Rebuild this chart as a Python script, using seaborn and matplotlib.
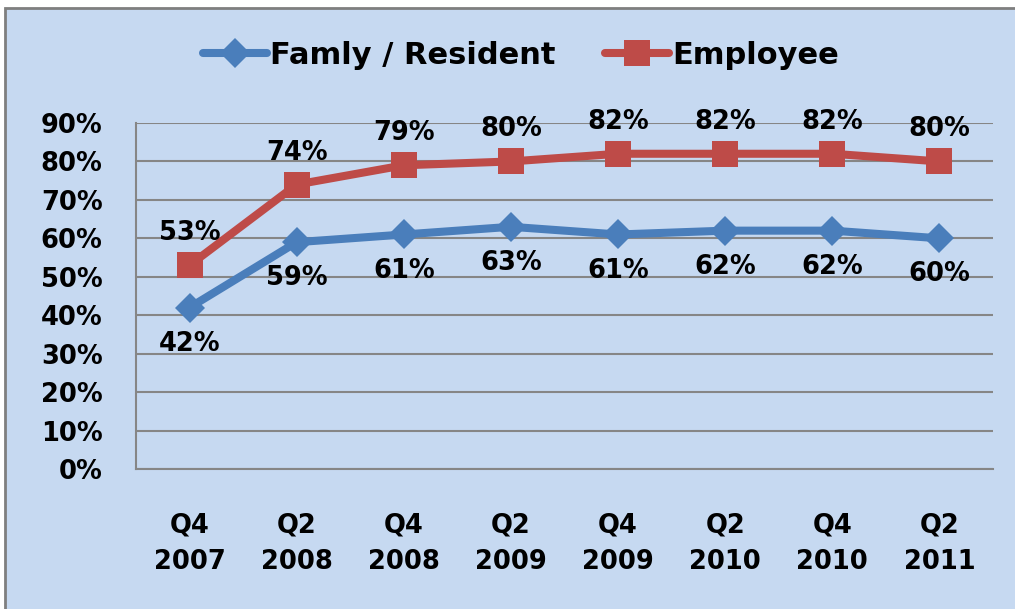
import seaborn as sns
import matplotlib.pyplot as plt
import pandas as pd
from matplotlib.patches import Rectangle
from matplotlib.ticker import PercentFormatter

quarters = ["Q4\n2007", "Q2\n2008", "Q4\n2008", "Q2\n2009",
            "Q4\n2009", "Q2\n2010", "Q4\n2010", "Q2\n2011"]
family = [42, 59, 61, 63, 61, 62, 62, 60]
employee = [53, 74, 79, 80, 82, 82, 82, 80]
series_names = ["Famly / Resident", "Employee"]

df = pd.DataFrame({
    "quarter": quarters * 2,
    "pct": family + employee,
    "group": [series_names[0]] * len(family) + [series_names[1]] * len(employee),
})
df["x"] = list(range(len(quarters))) * 2

sns.set_style("white")
plt.rcParams["font.family"] = ["DejaVu Sans"]
plt.rcParams["text.color"] = "black"
plt.rcParams["xtick.labelcolor"] = "black"
plt.rcParams["ytick.labelcolor"] = "black"
FS = 18.5

fig = plt.figure(figsize=(10.15, 6.09), dpi=100)
fig.patch.set_facecolor("white")
fig.patches.append(Rectangle((5 / 1015, -0.1), 2, (609 - 8) / 609 + 0.1,
                             transform=fig.transFigure, facecolor="#c6d9f1",
                             edgecolor="#7f7f7f", linewidth=2, zorder=-5))

ax = fig.add_axes([136 / 1015, 1 - 469 / 609, (993 - 136) / 1015, (469 - 123) / 609])
ax.set_facecolor("none")
ax.set_zorder(2)

colors = {series_names[0]: "#4a7ebb", series_names[1]: "#be4b48"}
sns.lineplot(data=df, x="x", y="pct", hue="group", style="group",
             markers={series_names[0]: "D", series_names[1]: "s"}, dashes=False,
             palette=colors, linewidth=5.8, markersize=15, markeredgewidth=0,
             ax=ax, legend=True)
for line in ax.lines:
    if line.get_marker() == "s":
        line.set_markersize(19)

for i, v in enumerate(employee):
    ax.annotate(f"{v}%", (i, v), xytext=(0, 23), textcoords="offset points",
                ha="center", va="center", fontsize=FS, fontweight="bold")
for i, v in enumerate(family):
    ax.annotate(f"{v}%", (i, v), xytext=(0, -26), textcoords="offset points",
                ha="center", va="center", fontsize=FS, fontweight="bold")

ax.set_xlim(-0.5, len(quarters) - 0.5)
ax.set_ylim(0, 90)
ax.set_yticks(range(0, 91, 10))
ax.yaxis.set_major_formatter(PercentFormatter(decimals=0))
ax.set_xticks([i - 0.5 for i in range(len(quarters) + 1)], minor=False)
ax.set_xticklabels([])
ax.set_xticks(range(len(quarters)), minor=True)
ax.set_xticklabels(quarters, minor=True, fontsize=FS, fontweight="bold", linespacing=1.55)
ax.tick_params(axis="x", which="major", length=8, color="#868686", width=1.5, direction="out")
ax.tick_params(axis="x", which="minor", length=0, pad=31)
ax.tick_params(axis="y", length=8, color="#868686", width=1.5, direction="out", pad=16)
for t in ax.get_yticklabels():
    t.set_fontsize(FS)
    t.set_fontweight("bold")

ax.grid(axis="y", color="#868686", linewidth=1.5)
ax.set_axisbelow(True)
for side in ["top", "right"]:
    ax.spines[side].set_visible(False)
for side in ["left", "bottom"]:
    ax.spines[side].set_color("#868686")
    ax.spines[side].set_linewidth(1.5)
ax.set_xlabel("")
ax.set_ylabel("")

leg = ax.legend(loc="center", bbox_to_anchor=(521 / 1015, (609 - 55) / 609), bbox_transform=fig.transFigure,
                ncol=2, frameon=False, handlelength=2.1, columnspacing=1.6,
                handletextpad=0.1, prop={"weight": "bold", "size": 22})
for h in leg.get_lines():
    h.set_linewidth(5.8)

fig.savefig("out.png", dpi=100)
